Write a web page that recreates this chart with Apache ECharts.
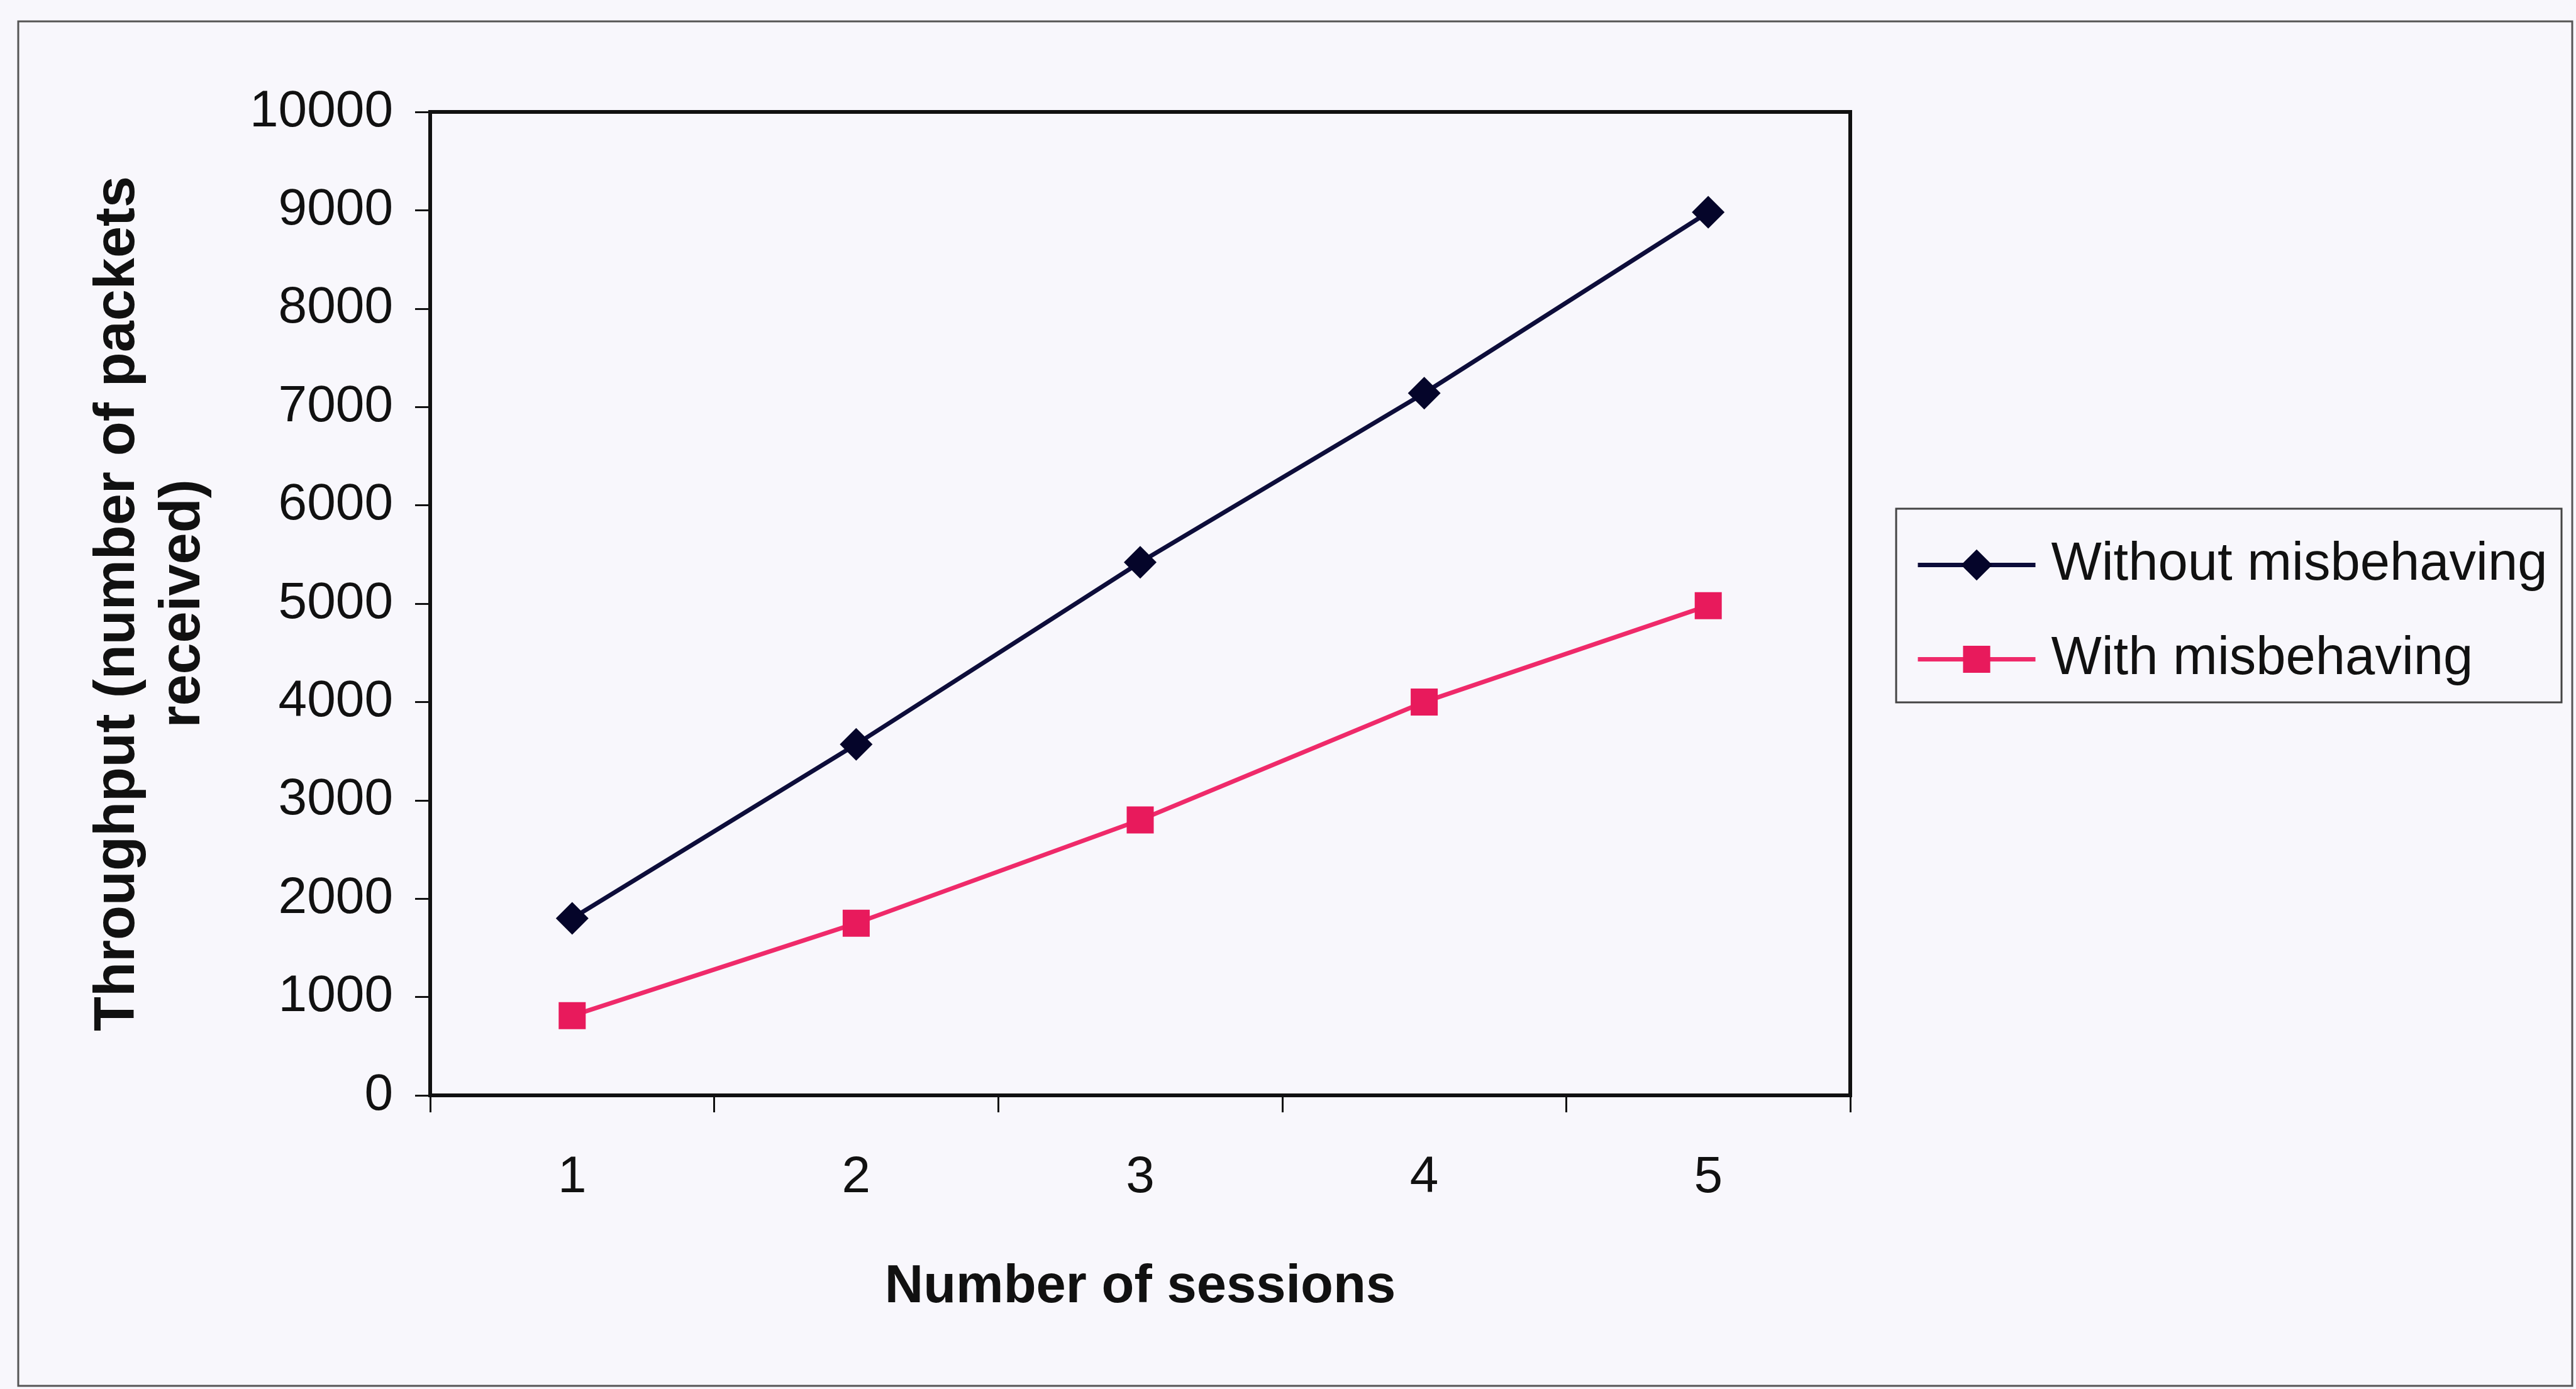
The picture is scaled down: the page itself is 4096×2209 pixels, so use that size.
<!DOCTYPE html>
<html>
<head>
<meta charset="utf-8">
<script src="https://cdn.jsdelivr.net/npm/echarts@6/dist/echarts.min.js"></script>
<style>
  html, body { margin: 0; padding: 0; background: #f8f7fc; }
  #chart { width: 4096px; height: 2209px; }
</style>
</head>
<body>
<div id="chart"></div>
<script>
// Data
const categories = ['1', '2', '3', '4', '5'];
const withoutMisbehaving = [1800, 3570, 5420, 7140, 8980];
const withMisbehaving = [810, 1750, 2800, 4000, 4980];
const seriesNames = ['Without misbehaving', 'With misbehaving'];
const xAxisTitle = 'Number of sessions';
const yAxisTitle = 'Throughput (number of packets\nreceived)';

const FONT = "'Liberation Sans', Arial, sans-serif";
const BG = '#f8f7fc';

const chart = echarts.init(document.getElementById('chart'), null, { renderer: 'canvas' });

const option = {
  animation: false,
  backgroundColor: BG,
  textStyle: { fontFamily: FONT },
  graphic: [
    {
      type: 'rect',
      shape: { x: 29, y: 34, width: 4061, height: 2170 },
      style: { fill: 'none', stroke: '#555', lineWidth: 3 },
      z: 0
    },
    {
      type: 'rect',
      shape: { x: 3015, y: 809, width: 1058, height: 308 },
      style: { fill: BG, stroke: '#444', lineWidth: 3 },
      z: 0
    }
  ],
  grid: {
    left: 684, right: 1154, top: 178, bottom: 467,
    show: true, borderColor: '#111', borderWidth: 6, backgroundColor: BG
  },
  legend: [
    {
      data: [seriesNames[0]],
      orient: 'vertical',
      left: 3046, top: 856,
      padding: 0,
      itemWidth: 187, itemHeight: 62,
      lineStyle: { width: 7 },
      textStyle: { fontFamily: FONT, fontSize: 85, color: '#111', padding: [0, 0, 0, 20] }
    },
    {
      data: [seriesNames[1]],
      orient: 'vertical',
      left: 3046, top: 1006,
      padding: 0,
      itemWidth: 187, itemHeight: 54,
      lineStyle: { width: 7 },
      textStyle: { fontFamily: FONT, fontSize: 85, color: '#111', padding: [0, 0, 0, 20] }
    }
  ],
  xAxis: {
    type: 'category',
    data: categories,
    boundaryGap: true,
    name: xAxisTitle,
    nameLocation: 'middle',
    nameGap: 263,
    nameTextStyle: { fontFamily: FONT, fontSize: 85, fontWeight: 'bold', color: '#111' },
    axisLine: { show: true, lineStyle: { color: '#111', width: 6 } },
    axisTick: { show: true, alignWithLabel: false, length: 27, lineStyle: { color: '#111', width: 3 } },
    axisLabel: { fontFamily: FONT, fontSize: 82, color: '#111', margin: 90 },
    splitLine: { show: false }
  },
  yAxis: {
    type: 'value',
    min: 0, max: 10000, interval: 1000,
    name: yAxisTitle,
    nameLocation: 'middle',
    nameGap: 340,
    nameTextStyle: { fontFamily: FONT, fontSize: 90, fontWeight: 'bold', color: '#111', lineHeight: 104, align: 'center' },
    axisLine: { show: true, lineStyle: { color: '#111', width: 6 } },
    axisTick: { show: true, length: 24, lineStyle: { color: '#111', width: 3 } },
    axisLabel: {
      fontFamily: FONT, fontSize: 82, color: '#111', margin: 59,
      formatter: function (v) { return String(v); }
    },
    splitLine: { show: false }
  },
  series: [
    {
      name: seriesNames[0],
      type: 'line',
      data: withoutMisbehaving,
      symbol: 'diamond',
      symbolSize: 52,
      lineStyle: { color: '#0d0d3a', width: 7 },
      itemStyle: { color: '#05052a' },
      z: 3
    },
    {
      name: seriesNames[1],
      type: 'line',
      data: withMisbehaving,
      symbol: 'rect',
      symbolSize: 43,
      lineStyle: { color: '#ef2a6a', width: 7 },
      itemStyle: { color: '#e81a5c' },
      z: 2
    }
  ]
};

chart.setOption(option);
</script>
</body>
</html>
